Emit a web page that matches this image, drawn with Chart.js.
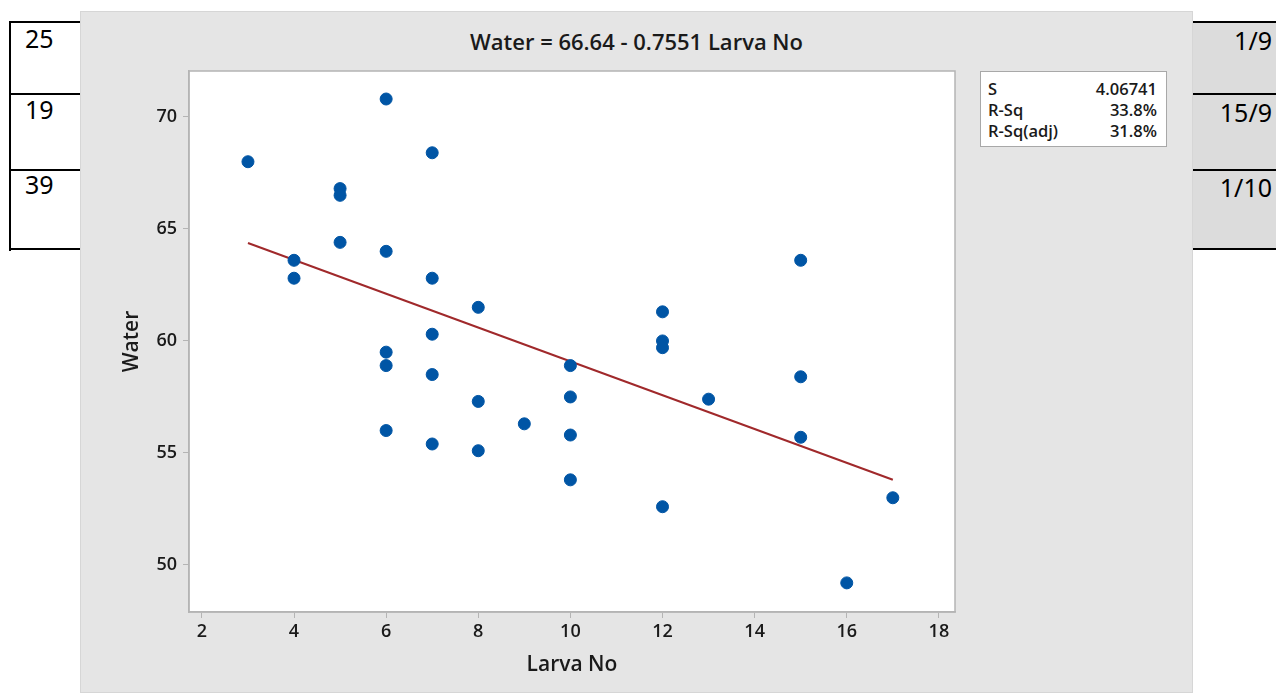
<!DOCTYPE html>
<html>
<head>
<meta charset="utf-8">
<script src="https://cdn.jsdelivr.net/npm/chart.js@4.4.1/dist/chart.umd.min.js"></script>
<style>
  html, body { margin:0; padding:0; background:#fff; width:1276px; height:693px; overflow:hidden; position:relative; }
  .tbl-line { position:absolute; height:2px; background:#000; }
  .tbl-v { position:absolute; width:2px; background:#000; }
  .cell { position:absolute; font-family:"Noto Sans", "DejaVu Sans", sans-serif; font-size:25px; line-height:25px; color:#000; white-space:nowrap; }
  .rcell { position:absolute; left:1193px; width:83px; background:#dcdcdc; }
  #panel { position:absolute; left:80px; top:11px; width:1113px; height:682px; background:#e5e5e5; box-sizing:border-box; border:1px solid #d6d6d6; }
  #title { position:absolute; left:80px; top:27px; width:1113px; text-align:center; font-family:"Open Sans", "Noto Sans", sans-serif; font-weight:600; font-size:22px; line-height:28px; color:#1a1a1a; }
  #wrap { position:absolute; left:80px; top:11px; width:1113px; height:682px; }
  #stats { position:absolute; left:980px; top:71px; width:187px; height:76px; box-sizing:border-box; background:#fff; border:1px solid #a8a8a8; font-family:"Open Sans", "Noto Sans", sans-serif; font-weight:600; font-size:16.5px; color:#1a1a1a; padding:6px 9px 0 7px; line-height:21px; }
  #stats div { display:flex; justify-content:space-between; height:21px; }
</style>
</head>
<body>
<!-- left table -->
<div class="tbl-v" style="left:9px; top:22px; height:229px;"></div>
<div class="tbl-line" style="left:9px; top:21px; width:75px;"></div>
<div class="tbl-line" style="left:9px; top:93px; width:75px;"></div>
<div class="tbl-line" style="left:9px; top:169px; width:75px;"></div>
<div class="tbl-line" style="left:9px; top:248px; width:75px;"></div>
<div class="cell" style="left:25px; top:26px;">25</div>
<div class="cell" style="left:25px; top:97px;">19</div>
<div class="cell" style="left:25px; top:172px;">39</div>
<!-- right table -->
<div class="rcell" style="top:22px; height:227px;"></div>
<div class="tbl-line" style="left:1190px; top:21px; width:86px;"></div>
<div class="tbl-line" style="left:1190px; top:93px; width:86px;"></div>
<div class="tbl-line" style="left:1190px; top:169px; width:86px;"></div>
<div class="tbl-line" style="left:1190px; top:248px; width:86px;"></div>
<div class="cell" style="right:4px; top:28px;">1/9</div>
<div class="cell" style="right:4px; top:100px;">15/9</div>
<div class="cell" style="right:4px; top:175px;">1/10</div>

<div id="panel"></div>
<div id="title">Water = 66.64 - 0.7551 Larva No</div>
<div id="wrap"><canvas id="c" width="1113" height="682"></canvas></div>
<div id="stats">
  <div><span>S</span><span>4.06741</span></div>
  <div><span>R-Sq</span><span>33.8%</span></div>
  <div><span>R-Sq(adj)</span><span>31.8%</span></div>
</div>

<script>
// ---- data ----
const larvaNo = [3, 4, 4, 5, 5, 5, 6, 6, 6, 6, 6, 7, 7, 7, 7, 7, 8, 8, 8, 9, 10, 10, 10, 10, 12, 12, 12, 12, 13, 15, 15, 15, 16, 17];
const water   = [68.0, 63.6, 62.8, 66.8, 66.5, 64.4, 70.8, 64.0, 59.5, 58.9, 56.0, 68.4, 62.8, 60.3, 58.5, 55.4, 61.5, 57.3, 55.1, 56.3, 58.9, 57.5, 55.8, 53.8, 61.3, 60.0, 59.7, 52.6, 57.4, 63.6, 58.4, 55.7, 49.2, 53.0];
const intercept = 66.64;
const slope = -0.7551;
const xTickValues = [2, 4, 6, 8, 10, 12, 14, 16, 18];
const yTickValues = [50, 55, 60, 65, 70];

const xMinData = Math.min(...larvaNo), xMaxData = Math.max(...larvaNo);
const fitLine = [xMinData, xMaxData].map(x => ({x: x, y: intercept + slope * x}));
const points = larvaNo.map((x, i) => ({x: x, y: water[i]}));

const plotBg = {
  id: 'plotBg',
  beforeDraw(chart) {
    const {ctx, chartArea: a} = chart;
    ctx.save();
    ctx.fillStyle = '#ffffff';
    ctx.fillRect(a.left, a.top, a.right - a.left, a.bottom - a.top);
    ctx.strokeStyle = '#b4b4b4';
    ctx.lineWidth = 1.5;
    ctx.strokeRect(a.left, a.top, a.right - a.left, a.bottom - a.top);
    ctx.restore();
  }
};

const tickFont = {family: '"Open Sans", "Noto Sans", sans-serif', size: 18, weight: '600'};
const titleFont = {family: '"Open Sans", "Noto Sans", sans-serif', size: 21, weight: '600'};

new Chart(document.getElementById('c'), {
  type: 'scatter',
  data: {
    datasets: [
      {
        type: 'line',
        data: fitLine,
        borderColor: '#a0292b',
        borderWidth: 2,
        pointRadius: 0,
        fill: false,
        order: 2
      },
      {
        data: points,
        backgroundColor: '#0055a5',
        borderColor: '#0055a5',
        pointRadius: 6,
        pointHoverRadius: 6,
        order: 1
      }
    ]
  },
  options: {
    responsive: false,
    animation: false,
    events: [],
    layout: { padding: { top: 60, left: 0, right: 238, bottom: 0 } },
    plugins: { legend: { display: false }, tooltip: { enabled: false }, title: { display: false } },
    scales: {
      x: {
        type: 'linear',
        min: 1.72,
        max: 18.35,
        afterFit(s) { s.height = 81; },
        afterBuildTicks(s) { s.ticks = xTickValues.map(v => ({value: v})); },
        grid: { drawOnChartArea: false, drawTicks: true, tickLength: 6, color: '#b4b4b4' },
        border: { display: true, color: '#b4b4b4', width: 1.5 },
        ticks: { color: '#1a1a1a', font: tickFont, padding: 3, maxRotation: 0, autoSkip: false },
        title: { display: true, text: 'Larva No', color: '#1a1a1a', font: titleFont, padding: { top: 0, bottom: 15 } }
      },
      y: {
        type: 'linear',
        min: 47.9,
        max: 72.05,
        afterFit(s) { s.width = 109; },
        afterBuildTicks(s) { s.ticks = yTickValues.map(v => ({value: v})); },
        grid: { drawOnChartArea: false, drawTicks: true, tickLength: 6, color: '#b4b4b4' },
        border: { display: true, color: '#b4b4b4', width: 1.5 },
        ticks: { color: '#1a1a1a', font: tickFont, padding: 6, autoSkip: false },
        title: { display: true, text: 'Water', color: '#1a1a1a', font: titleFont, padding: { top: 39, bottom: 0 } }
      }
    }
  },
  plugins: [plotBg]
});
</script>
</body>
</html>
